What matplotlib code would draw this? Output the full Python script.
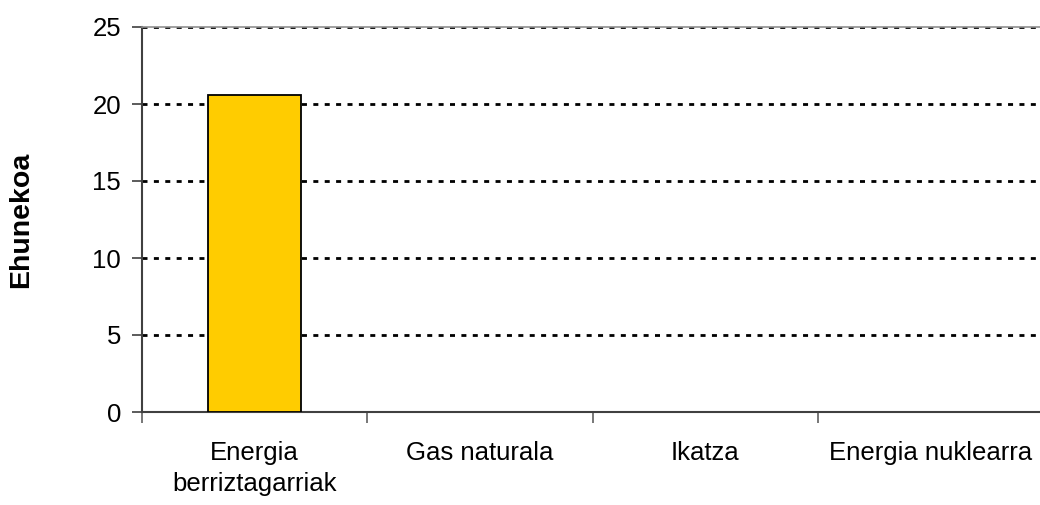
import matplotlib.pyplot as plt
import numpy as np

plt.rcParams['font.family'] = ['Liberation Sans', 'DejaVu Sans']

# data
categories = ['Energia\nberriztagarriak', 'Gas naturala', 'Ikatza', 'Energia nuklearra']
values = [20.6, 0, 0, 0]
yticks = [0, 5, 10, 15, 20, 25]

fig = plt.figure(figsize=(10.4, 5.05), dpi=100)
ax = fig.add_axes([142/1040, 1 - 412/505, 901/1040, 385/505])

pos = np.arange(len(categories))
edges = ['black' if v > 0 else 'none' for v in values]
ax.bar(pos, values, width=0.41, color='#FFCC00', edgecolor=edges, linewidth=1.3, zorder=3)

ax.set_xlim(-0.5, len(categories) - 0.5)
ax.set_ylim(0, 25)
ax.set_yticks(yticks)
ax.yaxis.grid(True, color='black', linewidth=2.0, dashes=(1.8, 2.3))
ax.set_axisbelow(True)

# category labels between boundary ticks
ax.set_xticks(np.arange(-0.5, len(categories)), minor=False)
ax.set_xticklabels([''] * (len(categories) + 1))
ax.set_xticks(pos, minor=True)
ax.set_xticklabels(categories, minor=True, fontsize=18.5)
ax.tick_params(axis='x', which='minor', length=0, pad=21)
ax.tick_params(axis='x', which='major', length=8, width=1.2, color='#606060')
ax.tick_params(axis='y', length=7, width=1.2, color='#404040', labelsize=18.5, pad=8)

for lab in ax.get_xticklabels(minor=True):
    lab.set_linespacing(1.35)

ax.spines['right'].set_visible(False)
ax.spines['top'].set_color('#909090')
ax.spines['top'].set_linewidth(1.2)
ax.spines['left'].set_color('#404040')
ax.spines['left'].set_linewidth(1.5)
ax.spines['bottom'].set_color('#404040')
ax.spines['bottom'].set_linewidth(1.5)

ax.set_ylabel('Ehunekoa', fontsize=20.5, fontweight='bold')
ax.yaxis.set_label_coords(-0.120, 0.5)

fig.savefig('out.png', dpi=100)
